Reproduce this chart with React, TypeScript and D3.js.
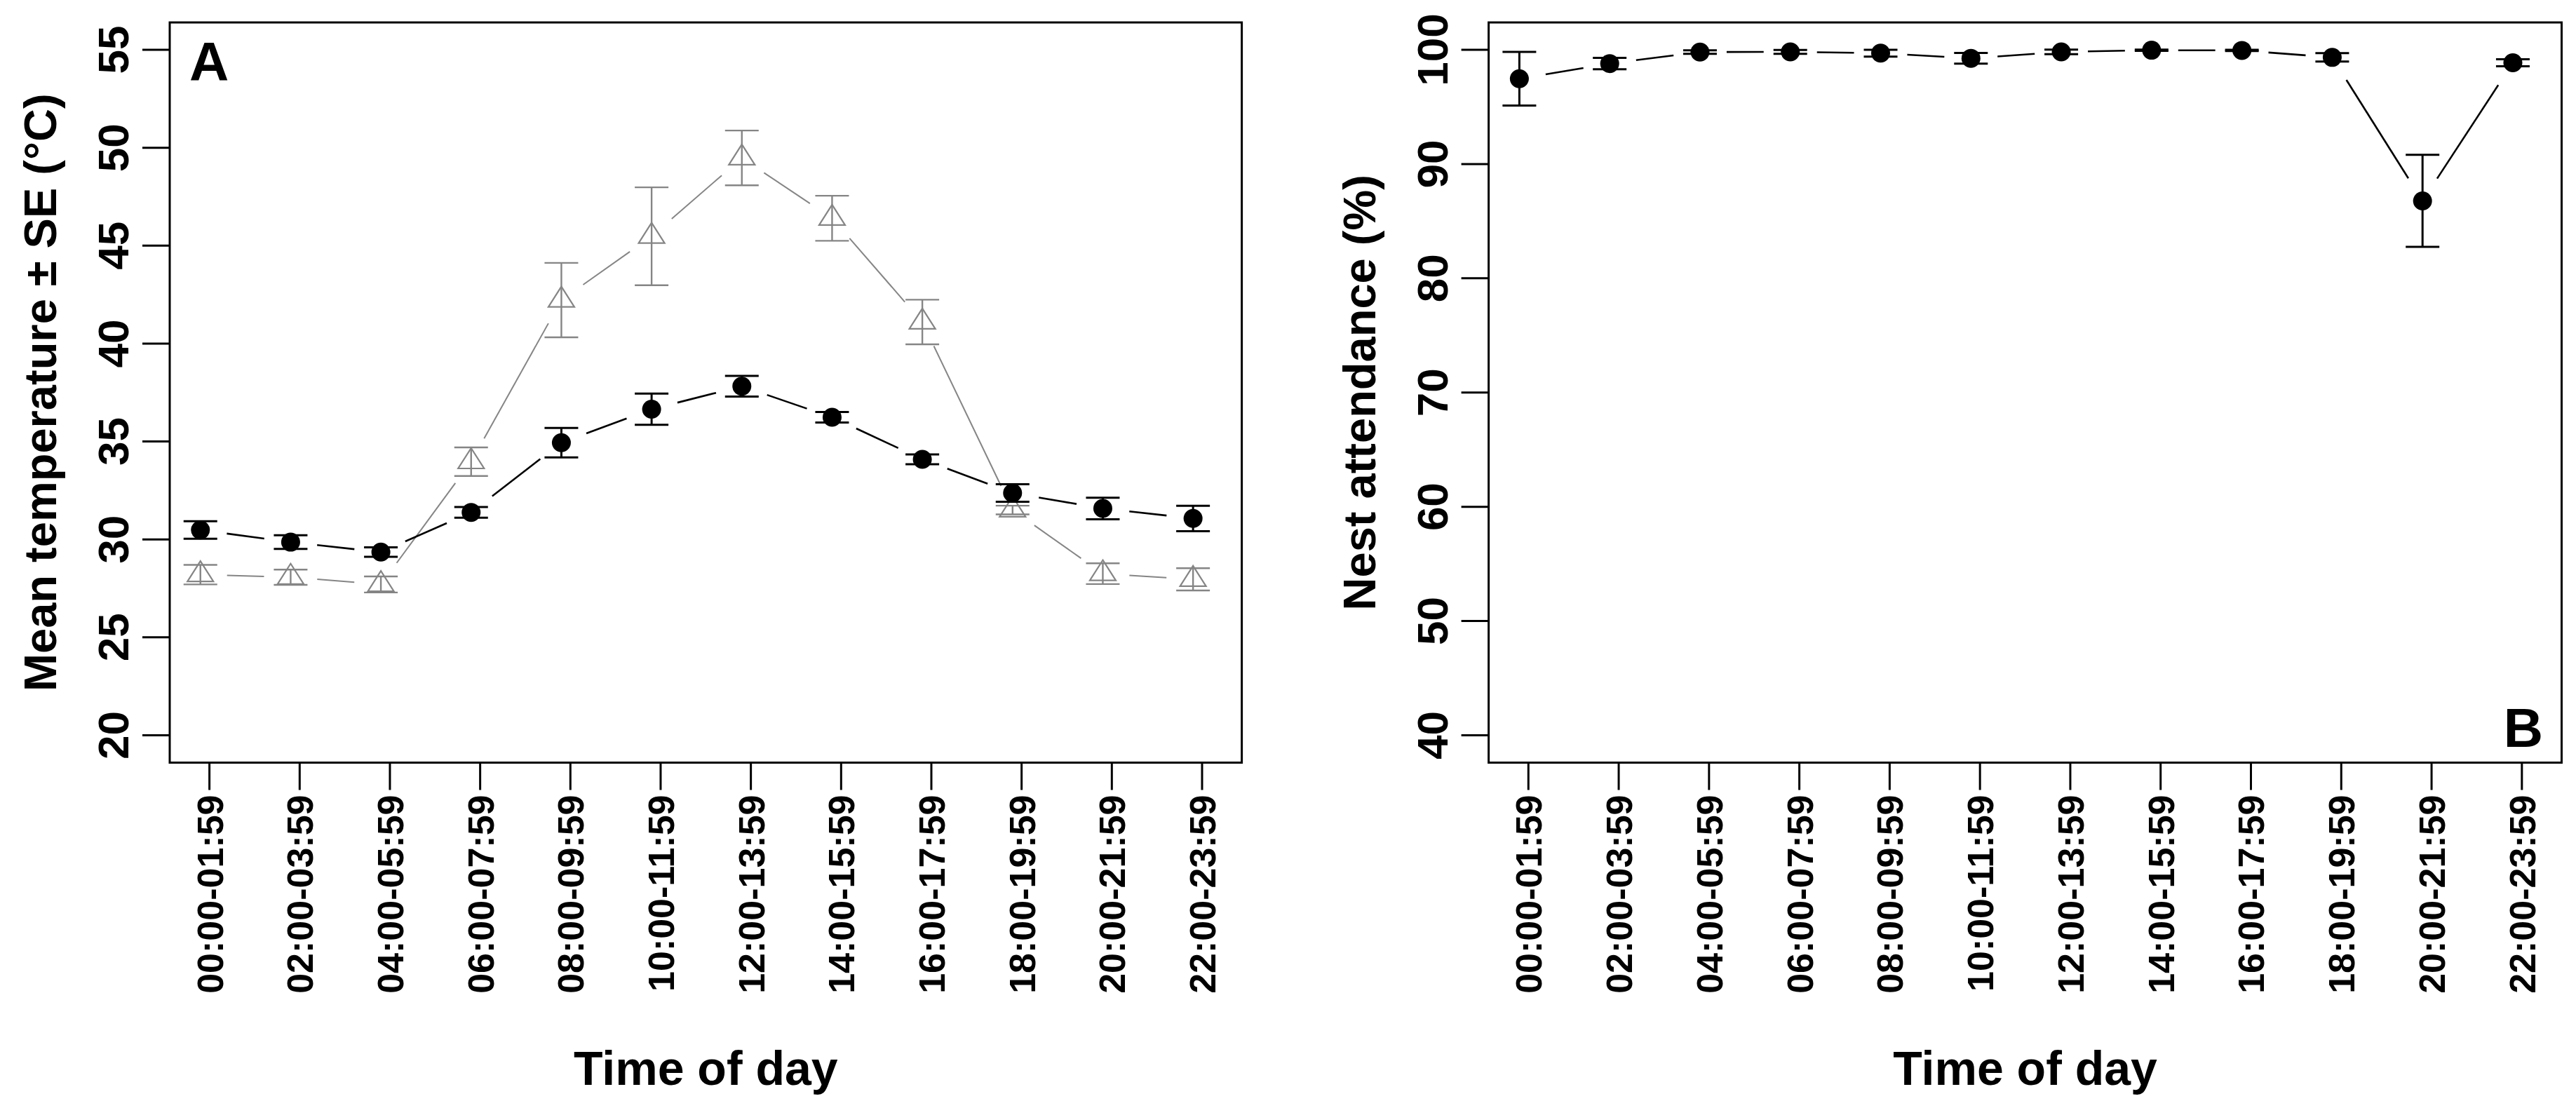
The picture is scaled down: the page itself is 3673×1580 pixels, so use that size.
import React from 'react';
import * as d3 from 'd3';

// ---------- data ----------
const timeLabels = [
  '00:00-01:59', '02:00-03:59', '04:00-05:59', '06:00-07:59',
  '08:00-09:59', '10:00-11:59', '12:00-13:59', '14:00-15:59',
  '16:00-17:59', '18:00-19:59', '20:00-21:59', '22:00-23:59',
];

// Panel A – black circles (nest temperature)
const nestTemp = [30.48, 29.86, 29.35, 31.38, 34.94, 36.65, 37.82, 36.24, 34.09, 32.37, 31.58, 31.07];
const nestTempSE = [0.45, 0.35, 0.24, 0.27, 0.75, 0.8, 0.53, 0.27, 0.25, 0.45, 0.55, 0.65];

// Panel A – grey triangles (ambient temperature)
const ambientTemp = [28.2, 28.07, 27.7, 33.97, 42.22, 45.48, 49.48, 46.4, 41.1, 31.5, 28.25, 27.96];
const ambientTempSE = [0.5, 0.39, 0.41, 0.73, 1.9, 2.5, 1.4, 1.15, 1.14, 0.22, 0.53, 0.57];

// Panel B – nest attendance
const attendance = [97.47, 98.8, 99.81, 99.82, 99.71, 99.26, 99.82, 99.97, 99.95, 99.34, 86.78, 98.87];
const attendanceSE = [2.35, 0.5, 0.15, 0.17, 0.3, 0.47, 0.2, 0.05, 0.05, 0.37, 4.03, 0.3];

const tempTicks = [20, 25, 30, 35, 40, 45, 50, 55];
const attendanceTicks = [40, 50, 60, 70, 80, 90, 100];

// ---------- styling ----------
const W = 3673;
const H = 1580;
const FONT = '"Liberation Sans", Arial, Helvetica, sans-serif';
const GREY = '#858585';
const TOP = 32;
const BOTTOM = 1087.5;
const TICK = 39;
const GAP = 38;
const X_OFFSET = -0.1;

type Series = {
  values: number[];
  se: number[];
  color: string;
  shape: 'circle' | 'triangle';
  lineWidth: number;
  barWidth: number;
};

type PanelProps = {
  left: number;
  right: number;
  yDomain: [number, number];
  yTicks: number[];
  yTitle: string;
  letter: string;
  letterX: number;
  letterY: number;
  letterAnchor: 'start' | 'end';
  series: Series[];
};

function Panel(p: PanelProps) {
  const x = d3.scaleLinear().domain([0.56, 12.44]).range([p.left, p.right]);
  const y = d3.scaleLinear().domain(p.yDomain).range([BOTTOM, TOP]);
  const cats = d3.range(1, timeLabels.length + 1);

  const renderSeries = (s: Series, si: number) => {
    const pts = s.values.map((v, i) => [x(i + 1 + X_OFFSET), y(v)] as [number, number]);
    const segs: JSX.Element[] = [];
    for (let i = 0; i < pts.length - 1; i++) {
      const [x0, y0] = pts[i];
      const [x1, y1] = pts[i + 1];
      const dx = x1 - x0;
      const dy = y1 - y0;
      const len = Math.hypot(dx, dy);
      if (len <= 2 * GAP) continue;
      const ux = dx / len;
      const uy = dy / len;
      segs.push(
        <line
          key={`s${si}-${i}`}
          x1={x0 + ux * GAP}
          y1={y0 + uy * GAP}
          x2={x1 - ux * GAP}
          y2={y1 - uy * GAP}
          stroke={s.color}
          strokeWidth={s.lineWidth}
        />
      );
    }
    const bars = s.values.map((v, i) => {
      const cx = x(i + 1 + X_OFFSET);
      const yHi = y(v + s.se[i]);
      const yLo = y(v - s.se[i]);
      return (
        <g key={`b${si}-${i}`} stroke={s.color} strokeWidth={s.barWidth}>
          <line x1={cx} x2={cx} y1={yHi} y2={yLo} />
          <line x1={cx - 24} x2={cx + 24} y1={yHi} y2={yHi} />
          <line x1={cx - 24} x2={cx + 24} y1={yLo} y2={yLo} />
        </g>
      );
    });
    const marks = pts.map(([cx, cy], i) => {
      if (s.shape === 'circle') {
        return <circle key={`m${si}-${i}`} cx={cx} cy={cy} r={13.5} fill={s.color} />;
      }
      const h = 29;
      const w = 37;
      const d = `M${cx},${cy - (2 * h) / 3}L${cx + w / 2},${cy + h / 3}L${cx - w / 2},${cy + h / 3}Z`;
      return (
        <path key={`m${si}-${i}`} d={d} fill="white" fillOpacity={0} stroke={s.color} strokeWidth={2.2} />
      );
    });
    return (
      <g key={`series${si}`}>
        {segs}
        {bars}
        {marks}
      </g>
    );
  };

  const midY = (TOP + BOTTOM) / 2;
  const midX = (p.left + p.right) / 2;

  return (
    <g fontFamily={FONT} fontWeight="bold" fill="black">
      {p.series.map(renderSeries)}
      <rect
        x={p.left}
        y={TOP}
        width={p.right - p.left}
        height={BOTTOM - TOP}
        fill="none"
        stroke="black"
        strokeWidth={3}
      />
      {/* x axis */}
      {cats.map((c, i) => (
        <g key={`xt${i}`}>
          <line x1={x(c)} x2={x(c)} y1={BOTTOM} y2={BOTTOM + TICK} stroke="black" strokeWidth={3} />
          <text
            transform={`translate(${x(c) + 19},${BOTTOM + 46}) rotate(-90)`}
            textAnchor="end"
            fontSize={52}
          >
            {timeLabels[i]}
          </text>
        </g>
      ))}
      {/* y axis */}
      {p.yTicks.map((t) => (
        <g key={`yt${t}`}>
          <line x1={p.left - TICK} x2={p.left} y1={y(t)} y2={y(t)} stroke="black" strokeWidth={3} />
          <text
            transform={`translate(${p.left - 59},${y(t)}) rotate(-90)`}
            textAnchor="middle"
            fontSize={62}
          >
            {t}
          </text>
        </g>
      ))}
      <text x={midX} y={1547} textAnchor="middle" fontSize={68}>
        Time of day
      </text>
      <text
        transform={`translate(${p.left - 162},${midY}) rotate(-90)`}
        textAnchor="middle"
        fontSize={65}
      >
        {p.yTitle}
      </text>
      <text x={p.letterX} y={p.letterY} textAnchor={p.letterAnchor} fontSize={78}>
        {p.letter}
      </text>
    </g>
  );
}

export default function App() {
  return (
    <div style={{ position: 'absolute', left: 0, top: 0, width: W, height: H, background: 'white' }}>
      <svg width={W} height={H} viewBox={`0 0 ${W} ${H}`} style={{ display: 'block' }}>
        <rect x={0} y={0} width={W} height={H} fill="white" />
        <Panel
          left={242}
          right={1770.6}
          yDomain={[18.6, 56.4]}
          yTicks={tempTicks}
          yTitle="Mean temperature ± SE (°C)"
          letter="A"
          letterX={270}
          letterY={115}
          letterAnchor="start"
          series={[
            { values: ambientTemp, se: ambientTempSE, color: GREY, shape: 'triangle', lineWidth: 2, barWidth: 2.4 },
            { values: nestTemp, se: nestTempSE, color: 'black', shape: 'circle', lineWidth: 2.6, barWidth: 3 },
          ]}
        />
        <Panel
          left={2122.6}
          right={3652.5}
          yDomain={[37.6, 102.4]}
          yTicks={attendanceTicks}
          yTitle="Nest attendance (%)"
          letter="B"
          letterX={3626}
          letterY={1065}
          letterAnchor="end"
          series={[
            { values: attendance, se: attendanceSE, color: 'black', shape: 'circle', lineWidth: 2.6, barWidth: 3 },
          ]}
        />
      </svg>
    </div>
  );
}
